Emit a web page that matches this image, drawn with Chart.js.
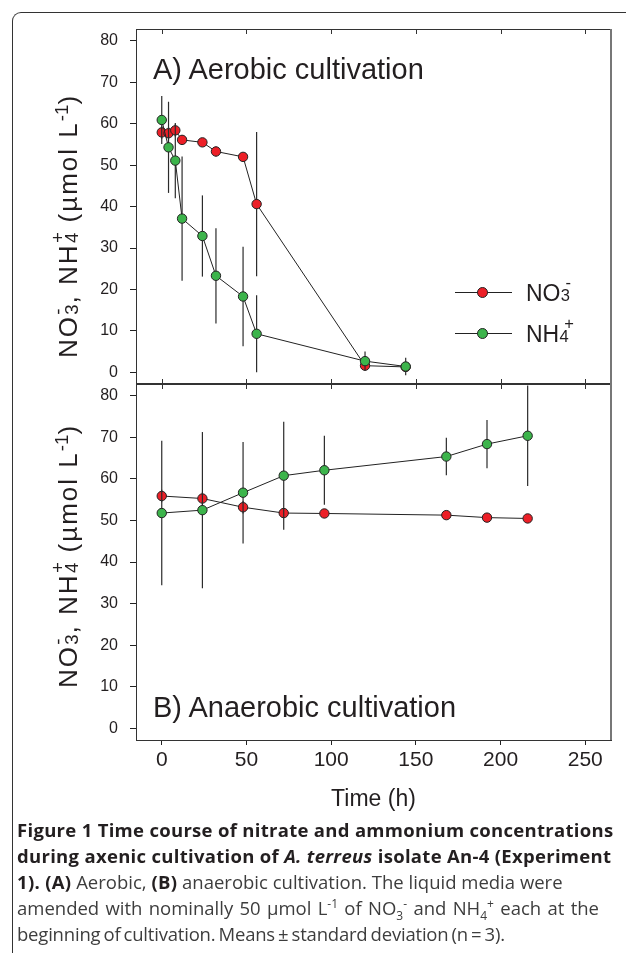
<!DOCTYPE html>
<html>
<head>
<meta charset="utf-8">
<script src="https://cdn.jsdelivr.net/npm/chart.js@4.4.0/dist/chart.umd.min.js"></script>
<style>
  body { margin: 0; background: #fff; width: 626px; height: 955px; overflow: hidden; position: relative;
         font-family: "Liberation Sans", Arial, sans-serif; color: #231f20; }
  #frame { position: absolute; left: 12px; top: 12px; width: 660px; height: 940px;
           border-left: 1.5px solid #333; border-top: 1.5px solid #333; border-top-left-radius: 9px; }
  canvas { position: absolute; left: 0; top: 0; }
  .panel { position: absolute; left: 153px; font-size: 29px; line-height: 1; white-space: nowrap; }
  .ytitle { position: absolute; font-size: 26px; letter-spacing: 2px; line-height: 1; white-space: nowrap;
            transform: translate(-50%, -50%) rotate(-90deg); }
  .ss { position: relative; display: inline-block; width: .45em; height: 1em; }
  .ss .up, .ss .dn { position: absolute; left: .02em; font-size: .72em; line-height: 1; }
  .ss .dn { top: .62em; }
  .ss .up { top: -.1em; }
  .leg .ss .up { left: .3em; top: -.2em; }
  .ytitle sup { font-size: .72em; vertical-align: .5em; line-height: 0; letter-spacing: 0; }
  .leg { position: absolute; left: 455px; width: 150px; height: 1px; }
  .leg .ln { position: absolute; left: 0; top: 0; width: 57px; height: 1px; background: #222; }
  .leg .dot { position: absolute; left: 22px; top: -5px; width: 9px; height: 9px; border: 1px solid #222; border-radius: 50%; }
  .leg .tx { position: absolute; left: 71px; top: -14px; font-size: 23px; line-height: 1; white-space: nowrap; }
  #caption { position: absolute; left: 17px; top: 817px; font-family: "Open Sans", sans-serif; font-size: 18.5px;
             line-height: 26px; white-space: nowrap; color: #3d3d3d; }
  #caption b { color: #231f20; letter-spacing: .3px; }
  #caption sup, #caption sub { font-size: 12px; line-height: 0; }
</style>
</head>
<body>
<div id="frame"></div>
<canvas id="chartB" width="626" height="830"></canvas>
<canvas id="chartA" width="626" height="830"></canvas>

<div class="panel" style="top:55px">A) Aerobic cultivation</div>
<div class="panel" style="top:693px">B) Anaerobic cultivation</div>

<div class="ytitle" style="left:66px;top:226px">NO<span class="ss"><span class="up">-</span><span class="dn">3</span></span>, NH<span class="ss"><span class="up">+</span><span class="dn">4</span></span> (µmol L<sup>-1</sup>)</div>
<div class="ytitle" style="left:66px;top:556px">NO<span class="ss"><span class="up">-</span><span class="dn">3</span></span>, NH<span class="ss"><span class="up">+</span><span class="dn">4</span></span> (µmol L<sup>-1</sup>)</div>

<div class="leg" style="top:292px"><div class="ln"></div><div class="dot" style="background:#ec1f27"></div>
  <div class="tx">NO<span class="ss"><span class="up">-</span><span class="dn">3</span></span></div></div>
<div class="leg" style="top:333px"><div class="ln"></div><div class="dot" style="background:#3cb44b"></div>
  <div class="tx">NH<span class="ss"><span class="up">+</span><span class="dn">4</span></span></div></div>

<div id="caption"><b>Figure 1 Time course of nitrate and ammonium concentrations</b><br><b>during axenic cultivation of <i>A. terreus</i> isolate An-4 (Experiment</b><br><b>1). (A)</b> Aerobic, <b>(B)</b> anaerobic cultivation. The liquid media were<br><span style="word-spacing:1.5px">amended with nominally 50 µmol L<sup>-1</sup> of NO<sub>3</sub><sup>-</sup> and NH<sub>4</sub><sup>+</sup> each at the</span><br><span style="word-spacing:-1.5px;letter-spacing:-.2px">beginning of cultivation. Means ± standard deviation (n = 3).</span></div>

<script>
// Aerobic cultivation (panel A)
const timeAerobic = [0, 4, 8, 12, 24, 32, 48, 56, 120, 144];
const no3Aerobic = [57.9, 57.7, 58.4, 56.1, 55.5, 53.3, 52.0, 40.6, 1.6, 1.3];
const no3AerobicSd = [1.5, 1.5, 1.5, 1.2, 1.0, 1.2, 1.0, 17.4, 1.0, 1.0];
const nh4Aerobic = [60.9, 54.3, 51.1, 37.1, 32.9, 23.3, 18.3, 9.3, 2.7, 1.4];
const nh4AerobicSd = [5.8, 11.0, 9.1, 15.0, 9.8, 11.5, 12.0, 9.3, 2.3, 2.1];

// Anaerobic cultivation (panel B)
const timeAnaerobic = [0, 24, 48, 72, 96, 168, 192, 216];
const no3Anaerobic = [55.9, 55.3, 53.2, 51.8, 51.7, 51.3, 50.7, 50.5];
const no3AnaerobicSd = [1.5, 1.5, 1.5, 1.0, 1.0, 1.0, 1.0, 1.0];
const nh4Anaerobic = [51.8, 52.5, 56.7, 60.8, 62.1, 65.4, 68.4, 70.4];
const nh4AnaerobicSd = [17.4, 18.8, 12.2, 13.0, 8.3, 4.5, 5.8, 12.1];

// Axis ticks
const xTicks = [0, 50, 100, 150, 200, 250];
const yTicks = [0, 10, 20, 30, 40, 50, 60, 70, 80];

const red = '#ec1f27';
const green = '#3cb44b';
const ink = '#231f20';

Chart.defaults.font.family = "'Liberation Sans', Arial, sans-serif";
Chart.defaults.color = ink;

// vertical error bars, drawn just before their own series
const errorBars = {
  id: 'errorBars',
  beforeDatasetDraw(chart, args) {
    const ds = chart.data.datasets[args.index];
    if (!ds.sd) return;
    const { ctx, chartArea: a, scales: { x, y } } = chart;
    ctx.save();
    ctx.beginPath();
    ctx.rect(a.left, a.top, a.right - a.left, a.bottom - a.top);
    ctx.clip();
    ctx.strokeStyle = '#2b2b2b';
    ctx.lineWidth = 1.2;
    ds.data.forEach((p, i) => {
      const px = x.getPixelForValue(p.x);
      ctx.beginPath();
      ctx.moveTo(px, y.getPixelForValue(p.y - ds.sd[i]));
      ctx.lineTo(px, y.getPixelForValue(p.y + ds.sd[i]));
      ctx.stroke();
    });
    ctx.restore();
  }
};

// top / right edges of the box and the inner x ticks
const boxFrame = {
  id: 'boxFrame',
  afterDraw(chart, args, opts) {
    const { ctx, chartArea: a, scales: { x } } = chart;
    ctx.save();
    ctx.strokeStyle = '#333';
    ctx.lineWidth = 1;
    ctx.beginPath();
    ctx.moveTo(a.left, a.top + 0.5);
    ctx.lineTo(a.right, a.top + 0.5);
    if (opts.bottomLine) {
      ctx.moveTo(a.left, a.bottom - 0.5);
      ctx.lineTo(a.right, a.bottom - 0.5);
    }
    xTicks.forEach(v => {
      const px = Math.round(x.getPixelForValue(v)) + 0.5;
      ctx.moveTo(px, a.top);
      ctx.lineTo(px, a.top + 5);
      if (opts.bottomLine) {
        ctx.moveTo(px, a.bottom - 5);
        ctx.lineTo(px, a.bottom);
      }
    });
    ctx.stroke();
    ctx.strokeStyle = '#777';
    ctx.lineWidth = 2;
    ctx.beginPath();
    ctx.moveTo(a.right, a.top);
    ctx.lineTo(a.right, a.bottom);
    ctx.stroke();
    ctx.restore();
  }
};

function series(label, times, values, sd, color, order) {
  return {
    label: label,
    data: times.map((t, i) => ({ x: t, y: values[i] })),
    sd: sd,
    order: order,
    borderColor: '#222',
    borderWidth: 1,
    pointRadius: 4.7,
    pointBorderWidth: 1,
    pointBorderColor: '#222',
    pointBackgroundColor: color,
    tension: 0,
    clip: 8
  };
}

function makeChart(id, datasets, padTop, padBottom, showX) {
  return new Chart(document.getElementById(id), {
    type: 'line',
    data: { datasets: datasets },
    options: {
      responsive: false,
      animation: false,
      events: [],
      layout: { padding: { left: 0, right: 15, top: padTop, bottom: padBottom } },
      plugins: {
        legend: { display: false },
        tooltip: { enabled: false },
        boxFrame: { bottomLine: !showX }
      },
      scales: {
        x: {
          type: 'linear',
          min: -15.2,
          max: 265.2,
          display: showX,
          afterBuildTicks: s => { s.ticks = xTicks.map(v => ({ value: v })); },
          afterFit: s => { s.height = showX ? 77 : 0; },
          grid: { drawOnChartArea: false, tickLength: 5, color: '#222' },
          border: { color: '#333', width: 1 },
          ticks: { font: { size: 21 }, color: ink, padding: 3, maxRotation: 0, autoSkip: false },
          title: { display: true, text: 'Time (h)', font: { size: 23 }, color: ink, padding: { top: 0, bottom: 4 } }
        },
        y: {
          min: -2.82,
          max: 82.86,
          afterBuildTicks: s => { s.ticks = yTicks.map(v => ({ value: v })); },
          afterFit: s => { s.width = 136; },
          grid: { drawOnChartArea: false, tickLength: 6, color: '#222' },
          border: { color: '#333', width: 1 },
          ticks: { font: { size: 16 }, color: ink, padding: 12 }
        }
      }
    },
    plugins: [errorBars, boxFrame]
  });
}

makeChart('chartA', [
  series('NO3-', timeAerobic, no3Aerobic, no3AerobicSd, red, 1),
  series('NH4+', timeAerobic, nh4Aerobic, nh4AerobicSd, green, 0)
], 29, 446, false);

makeChart('chartB', [
  series('NO3-', timeAnaerobic, no3Anaerobic, no3AnaerobicSd, red, 1),
  series('NH4+', timeAnaerobic, nh4Anaerobic, nh4AnaerobicSd, green, 0)
], 384, 13, true);
</script>
</body>
</html>
